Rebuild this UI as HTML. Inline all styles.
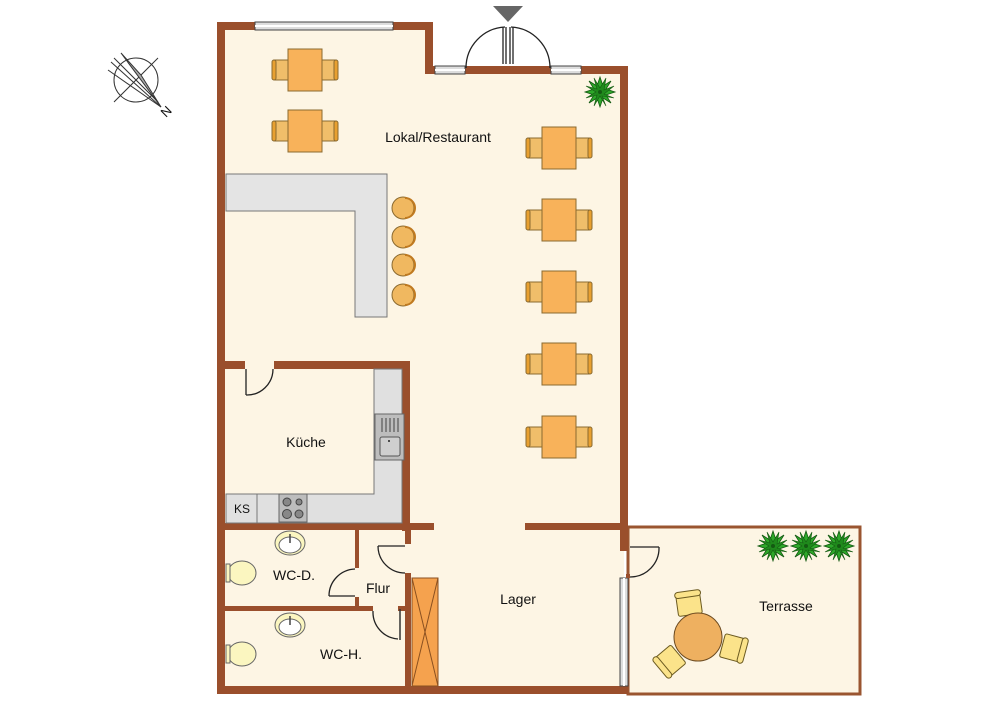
<!DOCTYPE html>
<html><head><meta charset="utf-8"><style>
html,body{margin:0;padding:0;background:#fff;width:1000px;height:706px;overflow:hidden}
text{font-family:"Liberation Sans",sans-serif;fill:#111}
</style></head><body>
<svg width="1000" height="706" viewBox="0 0 1000 706" xmlns="http://www.w3.org/2000/svg">
<defs>
<g id="tbl">
  <rect x="-33" y="-10" width="23" height="20" rx="3" fill="#f0be6a" stroke="#8a6a30" stroke-width="1"/>
  <rect x="-33" y="-10" width="4" height="20" rx="2" fill="#e8a030" stroke="#8a6a30" stroke-width="1"/>
  <rect x="10" y="-10" width="23" height="20" rx="3" fill="#f0be6a" stroke="#8a6a30" stroke-width="1"/>
  <rect x="29" y="-10" width="4" height="20" rx="2" fill="#e8a030" stroke="#8a6a30" stroke-width="1"/>
  <rect x="-17" y="-21" width="34" height="42" fill="#f8b25a" stroke="#8a6a30" stroke-width="1"/>
</g>
<g id="plant">
  <polygon points="0,-15 3,-6 11,-11 6,-3 15,0 6,3 11,11 3,6 0,15 -3,6 -11,11 -6,3 -15,0 -6,-3 -11,-11 -3,-6" fill="#2ea82a" stroke="#145a12" stroke-width="0.8"/>
  <polygon points="-6,-14 0,-4 6,-14 4,-2 14,-6 4,2 14,6 2,4 6,14 0,4 -6,14 -3,3 -14,6 -4,0 -14,-6 -3,-3" fill="#1f8a1c" stroke="#145a12" stroke-width="0.6"/>
  <circle r="2" fill="#145a12"/>
</g>
<g id="stool"><circle r="11" fill="#f0b860" stroke="#8a6a30"/><path d="M2,-10 A10,10 0 0 1 2,10" fill="none" stroke="#c07a20" stroke-width="2"/></g>
<g id="wc"><ellipse cx="0" cy="0" rx="14" ry="12" fill="#fbf6c0" stroke="#666"/><rect x="-16" y="-9" width="4" height="18" fill="#fbf6c0" stroke="#666"/></g>
<g id="sink"><ellipse rx="15" ry="12" fill="#fbf6c0" stroke="#666"/><ellipse rx="11" ry="8" cy="2" fill="#fff" stroke="#666"/><line x1="0" y1="-9" x2="0" y2="0" stroke="#444" stroke-width="1.5"/></g>
<g id="tchair"><rect x="-12" y="-11" width="24" height="22" rx="2" fill="#fbe38a" stroke="#6b5a20"/><rect x="-13" y="-13" width="26" height="6" rx="3" fill="#fbe38a" stroke="#6b5a20"/></g>
</defs>

<!-- floors -->
<polygon points="221,26 429,26 429,70 624,70 624,690 221,690" fill="#fdf5e4"/>
<rect x="628" y="527" width="232" height="167" fill="#fdf5e4" stroke="#9a5530" stroke-width="3"/>

<!-- walls -->
<g fill="#9a4f2c">
<rect x="217" y="22" width="8" height="672"/>
<rect x="217" y="22" width="216" height="8"/>
<rect x="425" y="22" width="8" height="52"/>
<rect x="425" y="66" width="203" height="8"/>
<rect x="620" y="66" width="8" height="482"/>
<rect x="217" y="686" width="411" height="8"/>
<rect x="225" y="361" width="20" height="8"/>
<rect x="274" y="361" width="136" height="8"/>
<rect x="402" y="361" width="8" height="170"/>
<rect x="225" y="523" width="209" height="7"/>
<rect x="525" y="523" width="103" height="7"/>
<rect x="405" y="530" width="6" height="14"/>
<rect x="405" y="573" width="6" height="115"/>
<rect x="355" y="530" width="4" height="38"/>
<rect x="355" y="597" width="4" height="14"/>
<rect x="225" y="606" width="148" height="5"/>
<rect x="398" y="606" width="8" height="5"/>
<rect x="506" y="66" width="4" height="8"/>
</g>
<line x1="400" y1="609" x2="400" y2="640" stroke="#333" stroke-width="1.5"/>

<!-- windows -->
<g stroke="#444" stroke-width="1">
<rect x="255" y="22" width="138" height="8" fill="#ddd"/><line x1="255" y1="26" x2="393" y2="26" stroke="#fff" stroke-width="2"/>
<rect x="435" y="66" width="30" height="8" fill="#ddd"/><line x1="435" y1="70" x2="465" y2="70" stroke="#fff" stroke-width="2"/>
<rect x="551" y="66" width="30" height="8" fill="#ddd"/><line x1="551" y1="70" x2="581" y2="70" stroke="#fff" stroke-width="2"/>
<rect x="620" y="578" width="8" height="108" fill="#ddd"/><line x1="624" y1="578" x2="624" y2="686" stroke="#fff" stroke-width="2"/>
</g>

<!-- entrance double door -->
<g fill="none" stroke="#222" stroke-width="1.3">
<path d="M466,68 A41,41 0 0 1 505,27"/>
<path d="M550,68 A41,41 0 0 0 511,27"/>
<line x1="503" y1="27" x2="503" y2="64"/><line x1="506" y1="27" x2="506" y2="64"/>
<line x1="510" y1="27" x2="510" y2="64"/><line x1="513" y1="27" x2="513" y2="64"/>
</g>
<polygon points="493,6 523,6 508,22" fill="#666"/>

<!-- other doors -->
<g fill="none" stroke="#222" stroke-width="1.3">
<line x1="246" y1="369" x2="246" y2="395"/><path d="M246,395 A26,26 0 0 0 273,369"/>
<line x1="378" y1="546" x2="405" y2="546"/><path d="M378,546 A27,27 0 0 0 405,573"/>
<line x1="329" y1="596" x2="355" y2="596"/><path d="M329,596 A27,27 0 0 1 355,569"/>
<path d="M373,611 A27,27 0 0 0 398,639"/>
<line x1="630" y1="547" x2="659" y2="547"/><path d="M659,547 A29,29 0 0 1 630,577"/>
<rect x="626" y="574" width="4" height="4" fill="#9a4f2c" stroke="none"/>
</g>
<rect x="620" y="547" width="8" height="4" fill="#9a4f2c"/>

<!-- bar -->
<path d="M226,174 H387 V317 H355 V211 H226 Z" fill="#e4e4e4" stroke="#777" stroke-width="1"/>
<use href="#stool" x="403" y="208"/><use href="#stool" x="403" y="237"/><use href="#stool" x="403" y="265"/><use href="#stool" x="403" y="295"/>

<!-- kitchen -->
<path d="M374,369 H402 V523 H226 V494 H374 Z" fill="#e0e0e0" stroke="#777"/>
<rect x="226" y="494" width="31" height="29" fill="#e0e0e0" stroke="#777"/>
<text x="242" y="513" font-size="12" text-anchor="middle">KS</text>
<rect x="279" y="494" width="28" height="28" fill="#bdbdbd" stroke="#666"/>
<circle cx="287" cy="502" r="4" fill="#888" stroke="#444"/><circle cx="299" cy="502" r="3" fill="#888" stroke="#444"/>
<circle cx="287" cy="514" r="4.5" fill="#888" stroke="#444"/><circle cx="299" cy="514" r="4" fill="#888" stroke="#444"/>
<rect x="375" y="414" width="29" height="46" fill="#bdbdbd" stroke="#666"/>
<g stroke="#444"><line x1="382" y1="418" x2="382" y2="432"/><line x1="386" y1="418" x2="386" y2="432"/><line x1="390" y1="418" x2="390" y2="432"/><line x1="394" y1="418" x2="394" y2="432"/><line x1="398" y1="418" x2="398" y2="432"/></g>
<rect x="380" y="437" width="20" height="19" rx="2" fill="#cfcfcf" stroke="#555"/><circle cx="389" cy="441" r="1" fill="#222"/>

<!-- shelf -->
<rect x="412" y="578" width="26" height="108" fill="#f5a24e" stroke="#8a5020"/>
<path d="M412,578 L438,686 M438,578 L412,686" stroke="#8a5020" fill="none"/>

<!-- WC -->
<use href="#sink" x="290" y="543"/><use href="#sink" x="290" y="625"/>
<use href="#wc" x="242" y="573"/><use href="#wc" x="242" y="654"/>

<!-- tables -->
<use href="#tbl" x="305" y="70"/><use href="#tbl" x="305" y="131"/>
<use href="#tbl" x="559" y="148"/><use href="#tbl" x="559" y="220"/><use href="#tbl" x="559" y="292"/><use href="#tbl" x="559" y="364"/><use href="#tbl" x="559" y="437"/>

<!-- plants -->
<use href="#plant" x="600" y="92"/>
<use href="#plant" x="773" y="546"/><use href="#plant" x="806" y="546"/><use href="#plant" x="839" y="546"/>

<!-- terrace table -->
<use href="#tchair" transform="translate(689,604) rotate(-8)"/>
<use href="#tchair" transform="translate(733,648) rotate(105)"/>
<use href="#tchair" transform="translate(670,661) rotate(-130)"/>
<circle cx="698" cy="637" r="24" fill="#eeb060" stroke="#6b4a20"/>

<!-- compass -->
<g transform="translate(136,80)" fill="none" stroke="#333" stroke-width="1">
<circle r="22"/>
<line x1="-22" y1="22" x2="22" y2="-22"/><line x1="-22" y1="-22" x2="22" y2="22"/>
<polygon points="-15,-27 25,27 5,-5" fill="#aaa"/>
<line x1="-28" y1="-10" x2="25" y2="27"/><line x1="-25" y1="-18" x2="25" y2="27"/>
</g>
<text x="0" y="0" font-size="13" transform="translate(166,118) rotate(-45)">N</text>

<!-- labels -->
<text x="438" y="142" font-size="14" text-anchor="middle">Lokal/Restaurant</text>
<text x="306" y="447" font-size="14" text-anchor="middle">Küche</text>
<text x="294" y="580" font-size="14" text-anchor="middle">WC-D.</text>
<text x="378" y="593" font-size="14" text-anchor="middle">Flur</text>
<text x="518" y="604" font-size="14" text-anchor="middle">Lager</text>
<text x="341" y="659" font-size="14" text-anchor="middle">WC-H.</text>
<text x="786" y="611" font-size="14" text-anchor="middle">Terrasse</text>
</svg>
</body></html>
